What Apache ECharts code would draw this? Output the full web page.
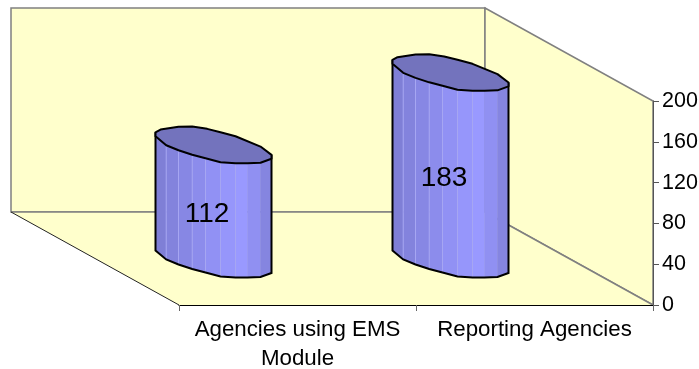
<!DOCTYPE html>
<html>
<head>
<meta charset="utf-8">
<style>
  html, body { margin: 0; padding: 0; background: #fff; }
  #chart { width: 699px; height: 369px; }
</style>
<script src="https://cdn.jsdelivr.net/npm/echarts@6/dist/echarts.min.js"></script>
</head>
<body>
<div id="chart"></div>
<script>
var categories = ['Agencies using EMS\nModule', 'Reporting Agencies']
var values = [112, 183]
var yMin = 0
var yMax = 200
var yStep = 40

// 3d box depth, in pixels
var depthX = 168
var depthY = 93

// cylinder outline, offsets from its centre line
var frontX = [-58, -47.3, -35, -21.3, -8, 7, 22, 34, 47, 58]
var frontY = [-9, 0, 5, 9.5, 13, 17, 18, 18, 17.5, 13.5]
var backX = [58, 47, 22, 7, -6.3, -21.3, -35, -53, -58]
var backY = [9.6, 1.3, -9, -13, -16.4, -18.7, -18.4, -15.7, -13]
var facetColors = ['#7f7fd6', '#8383dd', '#8787e4', '#8c8cec', '#9191f4', '#9696fb', '#9999ff', '#9090f2', '#8585e0']

var chart = echarts.init(document.getElementById('chart'), null, { renderer: 'canvas' })

function renderWalls(params, api) {
  var band = api.size([1, 0])[0]
  var origin = api.coord([0, yMin])
  var top = api.coord([0, yMax])[1]
  var left = origin[0] - band / 2
  var right = left + band * categories.length
  var bottom = origin[1]
  var wall = { fill: '#ffffcc', stroke: '#808080', lineWidth: 1.5 }
  return {
    type: 'group',
    children: [
      {
        type: 'polygon',
        shape: { points: [[left - depthX, top - depthY], [right - depthX, top - depthY], [right - depthX, bottom - depthY], [left - depthX, bottom - depthY]] },
        style: wall
      },
      {
        type: 'polygon',
        shape: { points: [[right - depthX, top - depthY], [right, top], [right, bottom], [right - depthX, bottom - depthY]] },
        style: wall
      },
      {
        type: 'polygon',
        shape: { points: [[left - depthX, bottom - depthY], [right - depthX, bottom - depthY], [right, bottom], [left, bottom]] },
        style: { fill: '#ffffcc', stroke: null }
      },
      {
        type: 'line',
        shape: { x1: left - depthX, y1: bottom - depthY, x2: right - depthX, y2: bottom - depthY },
        style: { stroke: '#808080', lineWidth: 1.5 }
      },
      {
        type: 'line',
        shape: { x1: right - depthX, y1: bottom - depthY, x2: right, y2: bottom },
        style: { stroke: '#808080', lineWidth: 1.5 }
      },
      {
        type: 'line',
        shape: { x1: left - depthX, y1: bottom - depthY, x2: left, y2: bottom },
        style: { stroke: '#222', lineWidth: 1 }
      }
    ]
  }
}

function renderCylinder(params, api) {
  var value = api.value(1)
  var base = api.coord([api.value(0), yMin])
  var head = api.coord([api.value(0), value])
  var cx = base[0] - depthX / 2
  var bot = base[1] - depthY / 2 + 1
  var top = head[1] - depthY / 2 + 1
  var children = []

  // side facets, left to right
  facetColors.forEach(function (color, i) {
    children.push({
      type: 'polygon',
      shape: {
        points: [
          [cx + frontX[i], top + frontY[i]],
          [cx + frontX[i + 1], top + frontY[i + 1]],
          [cx + frontX[i + 1], bot + frontY[i + 1]],
          [cx + frontX[i], bot + frontY[i]]
        ]
      },
      style: { fill: color, stroke: color, lineWidth: 0.5 }
    })
    if (i > 0 && i < 7) {
      children.push({
        type: 'line',
        shape: { x1: cx + frontX[i], y1: top + frontY[i], x2: cx + frontX[i], y2: bot + frontY[i] },
        style: { stroke: '#a6a6f2', lineWidth: 1 }
      })
    }
  })

  var outline = [[cx + frontX[0], top - 13]]
  frontX.forEach(function (x, i) {
    outline.push([cx + x, bot + frontY[i]])
  })
  outline.push([cx + frontX[frontX.length - 1], top + 9.6])
  children.push({
    type: 'polyline',
    shape: { points: outline },
    style: { fill: null, stroke: '#000', lineWidth: 2 }
  })

  var lid = []
  frontX.forEach(function (x, i) {
    lid.push([cx + x, top + frontY[i]])
  })
  backX.forEach(function (x, i) {
    lid.push([cx + x, top + backY[i]])
  })
  children.push({
    type: 'polygon',
    shape: { points: lid },
    style: { fill: '#7373bd', stroke: '#000', lineWidth: 2, lineJoin: 'round' }
  })

  children.push({
    type: 'text',
    style: {
      text: String(value),
      x: cx - 6.5,
      y: (top + bot) / 2 + 12,
      align: 'center',
      verticalAlign: 'middle',
      fill: '#000',
      font: '28px "Liberation Sans", Arial, sans-serif'
    }
  })
  return { type: 'group', children: children }
}

chart.setOption({
  animation: false,
  grid: { left: 179, right: 46, top: 101, bottom: 64, outerBoundsMode: 'none' },
  textStyle: { fontFamily: '"Liberation Sans", Arial, sans-serif' },
  xAxis: {
    type: 'category',
    data: categories,
    axisLine: { lineStyle: { color: '#000', width: 1 } },
    axisTick: { show: true, length: 6, lineStyle: { color: '#666' } },
    axisLabel: { color: '#000', fontSize: 22.3, lineHeight: 29, margin: 10, interval: 0 }
  },
  yAxis: {
    type: 'value',
    position: 'right',
    min: yMin,
    max: yMax,
    interval: yStep,
    splitLine: { show: false },
    axisLine: { show: true, lineStyle: { color: '#555', width: 1 } },
    axisTick: { show: true, length: 6, lineStyle: { color: '#555' } },
    axisLabel: { color: '#000', fontSize: 21.5, margin: 9 }
  },
  series: [
    {
      type: 'custom',
      z: -1,
      silent: true,
      clip: false,
      renderItem: renderWalls,
      data: [[0, yMin]]
    },
    {
      type: 'custom',
      clip: false,
      renderItem: renderCylinder,
      encode: { x: 0, y: 1 },
      data: values.map(function (v, i) { return [i, v] })
    }
  ]
})
</script>
</body>
</html>
